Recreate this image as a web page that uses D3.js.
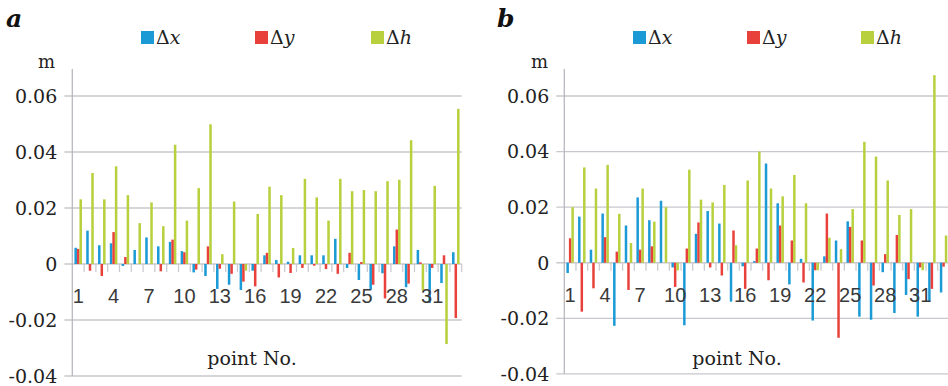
<!DOCTYPE html>
<html>
<head>
<meta charset="utf-8">
<script src="https://cdn.jsdelivr.net/npm/d3@7"></script>
<style>
  html, body { margin: 0; padding: 0; background: #fff; }
  svg { display: block; }
</style>
</head>
<body>
<svg id="chart" width="948" height="386"></svg>
<script>
// ---------- data ----------
const categories = ["1","2","3","4","5","6","7","8","9","10","11","12","13","14","15","16","17","18","19","20","21","22","23","24","25","26","27","28","29","30","31","32","33"];
const shownLabels = ["1","4","7","10","13","16","19","22","25","28","31"];
const yTicks = [-0.04, -0.02, 0, 0.02, 0.04, 0.06];
const yTickLabels = ["-0.04", "-0.02", "0", "0.02", "0.04", "0.06"];
const seriesNames = ["Δx", "Δy", "Δh"];

const aDx = [0.0058, 0.0119, 0.0067, 0.0074, -0.0007, 0.005, 0.0095, 0.0063, 0.0079, 0.0046, -0.003, -0.0043, -0.0089, -0.0074, -0.0093, -0.0024, 0.0031, 0.0014, 0.0008, 0.0031, 0.0031, 0.0031, 0.009, -0.0014, -0.0057, -0.0092, -0.0033, 0.0063, -0.0083, 0.005, -0.0139, -0.0068, 0.0042];
const aDy = [0.0054, -0.0024, -0.0043, 0.0114, 0.0025, 0, 0, -0.0026, 0.0087, 0.0042, -0.002, 0.0063, -0.0017, -0.0035, -0.0063, -0.008, 0.004, -0.0048, -0.0032, -0.0014, -0.0006, -0.0018, -0.0035, 0.004, 0.0007, -0.0074, -0.0123, 0.0123, -0.007, 0.0006, -0.0014, 0.0031, -0.0193];
const aDh = [0.0231, 0.0325, 0.0231, 0.0349, 0.0246, 0.0146, 0.022, 0.0135, 0.0426, 0.0155, 0.0271, 0.0499, 0.0035, 0.0223, -0.0024, 0.0179, 0.0276, 0.0246, 0.0057, 0.0304, 0.0238, 0.0155, 0.0304, 0.026, 0.0264, 0.026, 0.0296, 0.0301, 0.0442, -0.0095, 0.0279, -0.0286, 0.0554];

const bDx = [-0.0037, 0.0166, 0.0047, 0.0177, -0.0227, 0.0134, 0.0235, 0.0153, 0.0223, -0.0017, -0.0225, 0.0104, 0.0186, 0.0141, -0.014, -0.0013, 0.0006, 0.0357, 0.0214, -0.0078, 0.0014, -0.0208, 0.0023, 0.008, 0.0149, -0.0194, -0.0205, -0.0034, -0.0181, -0.0116, -0.0194, -0.014, -0.0107];
const bDy = [0.0088, -0.0176, -0.0092, 0.0092, 0.004, -0.0098, 0.0047, 0.0059, 0, -0.0087, 0.0051, 0.0145, -0.0017, -0.0046, 0.0116, -0.0094, 0.0051, -0.0063, 0.0134, 0.008, -0.0071, -0.0027, 0.0177, -0.027, 0.0129, 0.008, -0.0082, 0.0031, 0.01, -0.0059, -0.0017, -0.0094, -0.0014];
const bDh = [0.02, 0.0343, 0.0267, 0.0352, 0.0176, 0.0071, 0.0267, 0.0148, 0.02, -0.0028, 0.0335, 0.0227, 0.0217, 0.028, 0.0063, 0.0296, 0.04, 0.0267, 0.0239, 0.0316, 0.0214, -0.0027, 0.009, 0.0049, 0.0193, 0.0435, 0.0382, 0.0296, 0.0172, 0.0193, -0.0027, 0.0675, 0.0098];

// ---------- style / layout ----------
const colors = ["#1b9ad6", "#e8413c", "#b8d03e"];
const gridColor = "#c8c8ce";
const serif = "'DejaVu Serif', serif";
const sans = "'Liberation Sans', Arial, sans-serif";

const panels = [
  { letter: "a", series: [aDx, aDy, aDh], x0: 72.3, x1: 461.7, yTop: 96, yBot: 376,
    letterX: 6, mX: 55, titleX: 252, legendX: [141, 255, 371] },
  { letter: "b", series: [bDx, bDy, bDh], x0: 564.3, x1: 949.4, yTop: 96, yBot: 373.9,
    letterX: 497, mX: 548, titleX: 737, legendX: [633, 747, 861] }
];

const svg = d3.select("#chart");

panels.forEach(p => {
  const g = svg.append("g");
  const x = d3.scaleBand().domain(categories).range([p.x0, p.x1]).paddingInner(0.36).paddingOuter(0.18);
  const xs = d3.scaleBand().domain(seriesNames).range([0, x.bandwidth()]).padding(0);
  const y = d3.scaleLinear().domain([-0.04, 0.06]).range([p.yBot, p.yTop]);

  // gridlines + ticks
  g.selectAll("line.grid").data(yTicks).join("line")
    .attr("x1", p.x0 - 8).attr("x2", Math.min(p.x1, 948))
    .attr("y1", d => y(d)).attr("y2", d => y(d))
    .attr("stroke", gridColor).attr("stroke-width", 1.3);

  // y axis line
  g.append("line").attr("x1", p.x0).attr("x2", p.x0)
    .attr("y1", 69).attr("y2", y(-0.04))
    .attr("stroke", "#b8b8be").attr("stroke-width", 1.3);

  // y tick labels
  g.selectAll("text.yl").data(yTicks).join("text")
    .attr("x", p.x0 - 15).attr("y", d => y(d)).attr("dy", "0.36em")
    .attr("text-anchor", "end")
    .attr("font-family", serif).attr("font-size", 19).attr("fill", "#222")
    .text((d, i) => yTickLabels[i]);

  // category boundary ticks
  const step = x.step();
  const bounds = d3.range(1, categories.length + 1).map(i => p.x0 + i * step);
  g.selectAll("line.ct").data(bounds).join("line")
    .attr("x1", d => d).attr("x2", d => d)
    .attr("y1", y(0)).attr("y2", y(0) + 8)
    .attr("stroke", gridColor).attr("stroke-width", 1.2);

  // bars
  seriesNames.forEach((s, si) => {
    g.selectAll(null).data(p.series[si]).join("rect")
      .attr("x", (d, i) => x(categories[i]) + xs(s))
      .attr("width", xs.bandwidth())
      .attr("y", d => y(Math.max(0, d)))
      .attr("height", d => Math.abs(y(d) - y(0)))
      .attr("fill", colors[si]);
  });

  // category labels
  g.selectAll("text.cl").data(shownLabels).join("text")
    .attr("x", d => x(d) + x.bandwidth() / 2)
    .attr("y", y(0) + 39)
    .attr("text-anchor", "middle")
    .attr("font-family", sans).attr("font-size", 20).attr("fill", "#3a3a3a")
    .text(d => d);

  // panel letter
  g.append("text").attr("x", p.letterX).attr("y", 27)
    .attr("font-family", serif).attr("font-size", 25).attr("font-weight", "bold").attr("font-style", "italic")
    .attr("fill", "#111").text(p.letter);

  // unit
  g.append("text").attr("x", p.mX).attr("y", 68).attr("text-anchor", "end")
    .attr("font-family", serif).attr("font-size", 18).attr("fill", "#222").text("m");

  // axis title
  g.append("text").attr("x", p.titleX).attr("y", 365).attr("text-anchor", "middle")
    .attr("font-family", serif).attr("font-size", 19).attr("fill", "#222").text("point No.");

  // legend
  seriesNames.forEach((s, si) => {
    const lx = p.legendX[si];
    g.append("rect").attr("x", lx).attr("y", 31).attr("width", 13).attr("height", 13).attr("fill", colors[si]);
    const t = g.append("text").attr("x", lx + 15).attr("y", 44)
      .attr("font-family", serif).attr("font-size", 19).attr("fill", "#222");
    t.append("tspan").text(s.charAt(0));
    t.append("tspan").attr("font-style", "italic").text(s.slice(1));
  });
});
</script>
</body>
</html>
